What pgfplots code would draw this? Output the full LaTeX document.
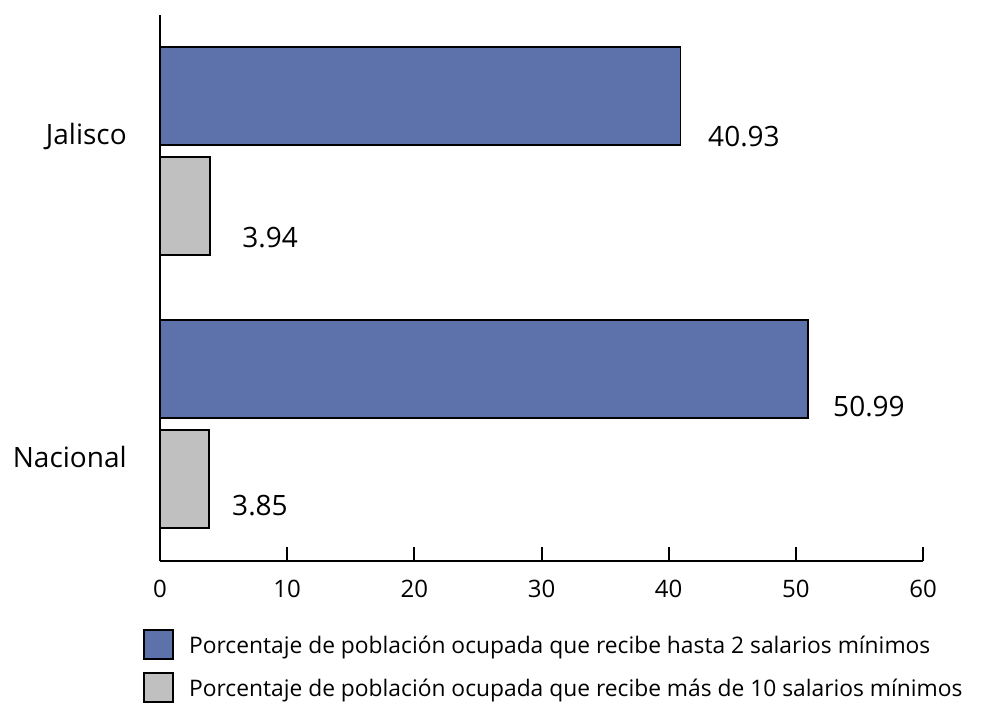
\documentclass[border=0pt]{standalone}
\usepackage{fontspec}
\setmainfont{Open Sans}
\usepackage{pgfplots}
\pgfplotsset{compat=1.18}

\definecolor{barblue}{RGB}{93,114,170}
\definecolor{bargray}{RGB}{192,192,192}

\pgfplotsset{
  sqlegend/.style={legend image code/.code={%
    \draw[##1, line width=1.4pt] (0pt,-9.75pt) rectangle (21.75pt,12pt);}},
}

\begin{document}
\begin{tikzpicture}
\begin{axis}[
  scale only axis,
  width=572.25pt, height=409.5pt,
  xmin=0, xmax=60, ymin=0, ymax=546,
  axis lines*=left,
  axis line style={line width=1.5pt},
  xtick={0,10,...,60},
  tick align=inside,
  major tick length=10.5pt,
  xtick style={line width=1.5pt, black},
  ytick={94,416},
  yticklabels={Nacional,Jalisco},
  ytick style={draw=none},
  yticklabel style={font=\fontsize{21}{25}\selectfont, anchor=base east, inner sep=0pt, xshift=-14.25pt},
  xticklabel style={font=\fontsize{18}{22}\selectfont, anchor=north, inner sep=0pt, yshift=-14.25pt},
  /pgf/number format/assume math mode=true,
  xbar,
  clip=false,
  legend style={at={(-0.0223,-0.1245)}, anchor=north west, draw=none, fill=none,
    inner sep=0pt, row sep=9pt, column sep=11.25pt,
    font=\fontsize{17.1}{20}\selectfont, nodes={inner sep=0pt}},
  legend cell align=left,
]
\addplot[fill=barblue, draw=black, line width=1.4pt, bar width=98, bar shift=0pt, sqlegend]
  coordinates {(40.93,465) (50.99,192)};
\addlegendentry{Porcentaje de población ocupada que recibe hasta 2 salarios mínimos}
\addplot[fill=bargray, draw=black, line width=1.4pt, bar width=98, bar shift=0pt, sqlegend]
  coordinates {(3.94,355) (3.85,82)};
\addlegendentry{Porcentaje de población ocupada que recibe más de 10 salarios mínimos}

\begin{scope}[every node/.style={anchor=base west, inner sep=0pt, font=\fontsize{21}{25}\selectfont}]
\node at (axis cs:43.09,414) {40.93};
\node at (axis cs:6.45,313) {3.94};
\node at (axis cs:52.92,145) {50.99};
\node at (axis cs:5.66,46) {3.85};
\end{scope}
\end{axis}
\path[use as bounding box] ([shift={(-120pt,-104.25pt)}]current axis.south west)
  rectangle ([shift={(54.75pt,11.25pt)}]current axis.north east);
\end{tikzpicture}
\end{document}
